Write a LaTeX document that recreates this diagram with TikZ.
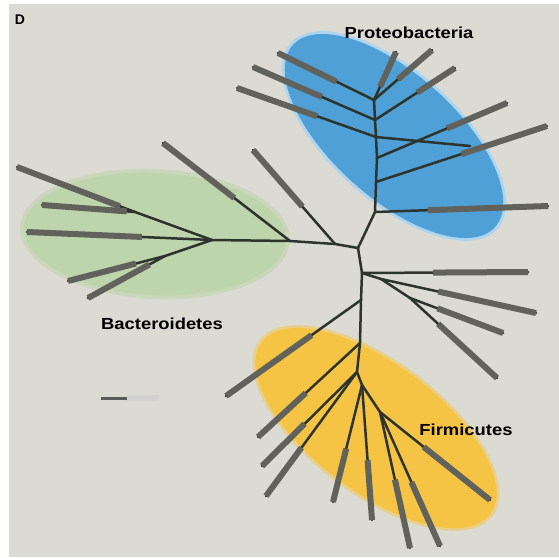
\documentclass[tikz,border=0pt]{standalone}
\usepackage{fontspec}
\setmainfont{Liberation Sans}
\newfontfamily\cladefont[FakeStretch=1.15]{Liberation Sans}
\usetikzlibrary{calc}
\definecolor{bgc}{RGB}{219,219,211}
\definecolor{greenc}{RGB}{190,212,172}
\definecolor{bluec}{RGB}{78,160,214}
\definecolor{yellowc}{RGB}{245,196,68}
\definecolor{brc}{RGB}{45,52,45}
\definecolor{labc}{RGB}{98,98,92}
\begin{document}
\begin{tikzpicture}[x=1pt,y=-1pt,
  br/.style={draw=brc,line width=2.5pt,line cap=round},
  lab/.style={draw=labc,line width=6pt},
  clade/.style={font=\cladefont\bfseries\fontsize{16}{18}\selectfont,text=black}]
\useasboundingbox (0,0) rectangle (559,557);
\fill[white] (0,0) rectangle (559,557);
\fill[bgc] (9,4) rectangle (559,557);
% clade areas
\fill[greenc!60!bgc] (155,234) circle [x radius=135, y radius=65, rotate=-3];
\fill[greenc] (155,234) circle [x radius=131, y radius=61, rotate=-3];
\fill[bluec!45!white] (394,136) circle [x radius=139, y radius=65, rotate=-42];
\fill[bluec] (394,136) circle [x radius=136, y radius=62, rotate=-42];
\fill[yellowc!50!bgc] (376,428) circle [x radius=146, y radius=67, rotate=-37];
\fill[yellowc] (376,428) circle [x radius=143, y radius=64, rotate=-37];
% coordinates
\coordinate (root) at (358,248);
\coordinate (s1) at (335,244);
\coordinate (s2) at (290,241);
\coordinate (B0) at (212,240);
\coordinate (B1) at (135,212);
\coordinate (B2) at (165,256);
\coordinate (b1) at (17,167);
\coordinate (b2) at (42,205);
\coordinate (b3) at (27,232);
\coordinate (b4) at (68,281);
\coordinate (b5) at (88,298);
\coordinate (u1) at (253,150);
\coordinate (u2) at (163,143);
\coordinate (Pa) at (375,212);
\coordinate (Pb) at (376,182);
\coordinate (Pc) at (377,158);
\coordinate (Pd) at (376,137);
\coordinate (Pe) at (375,120);
\coordinate (Pf) at (374,100);
\coordinate (p1) at (548,206);
\coordinate (p2) at (547,126);
\coordinate (p3) at (507,103);
\coordinate (p4) at (470,146);
\coordinate (p5) at (237,88);
\coordinate (p6) at (253,67);
\coordinate (p7) at (455,68);
\coordinate (p8) at (278,53);
\coordinate (p9) at (432,50);
\coordinate (p10) at (396,52);
\coordinate (R0) at (362,273);
\coordinate (Ra) at (381,279);
\coordinate (Rb) at (410,298);
\coordinate (r1) at (528,272);
\coordinate (r2) at (536,313);
\coordinate (r3) at (503,333);
\coordinate (r4) at (497,378);
\coordinate (V1) at (361,300);
\coordinate (F0) at (360,343);
\coordinate (F1) at (357,372);
\coordinate (F2) at (362,385);
\coordinate (F3) at (380,412);
\coordinate (v1) at (226,396);
\coordinate (f1) at (258,437);
\coordinate (f2) at (262,466);
\coordinate (f3) at (266,496);
\coordinate (f4) at (333,502);
\coordinate (f5) at (372,520);
\coordinate (f6) at (410,548);
\coordinate (f7) at (440,546);
\coordinate (f8) at (490,500);
% branches
\foreach \a/\b in {root/s1,s1/s2,s2/B0,B0/B1,B0/B2,B1/b1,B1/b2,B0/b3,B2/b4,B2/b5,s1/u1,s2/u2,
  root/Pa,Pa/Pb,Pb/Pc,Pc/Pd,Pd/Pe,Pe/Pf,Pa/p1,Pb/p2,Pc/p3,Pd/p4,Pd/p5,Pe/p6,Pe/p7,Pf/p8,Pf/p9,Pf/p10,
  root/R0,R0/Ra,Ra/Rb,R0/r1,Ra/r2,Rb/r3,Rb/r4,
  R0/V1,V1/F0,F0/F1,F1/F2,F2/F3,V1/v1,F0/f1,F1/f2,F1/f3,F2/f4,F2/f5,F3/f6,F3/f7,F3/f8}
  \draw[br] (\a) -- (\b);
% leaf labels (illegible in reference, drawn as grey bars)
\foreach \t/\p/\l in {b1/B1/110,b2/B1/85,b3/B0/115,b4/B2/70,b5/B2/70,u1/s1/75,u2/s2/90,
  p1/Pa/120,p2/Pb/90,p3/Pc/65,p5/Pd/85,p6/Pe/75,p7/Pe/45,p8/Pf/65,p9/Pf/45,p10/Pf/38,
  r1/R0/95,r2/Ra/100,r3/Rb/70,r4/Rb/80,
  v1/V1/105,f1/F0/65,f2/F1/60,f3/F1/60,f4/F2/55,f5/F2/60,f6/F3/70,f7/F3/70,f8/F3/85}
  \draw[lab] (\t) -- ($(\t)!\l pt!(\p)$);
% scale bar
\coordinate (sb1) at (101,398);
\coordinate (sb2) at (127,398);
\coordinate (sb3) at (159,398);
\draw[draw=brc!80,line width=3pt] (sb1) -- (sb2);
\draw[draw=black!18,line width=6pt] (sb2) -- (sb3);
% texts
\node[font=\bfseries\fontsize{14}{16}\selectfont] (D) at (20,20) {D};
\node[clade] (tP) at (409,33) {Proteobacteria};
\node[clade] (tB) at (162,324) {Bacteroidetes};
\node[clade] (tF) at (466,430) {Firmicutes};
\end{tikzpicture}
\end{document}
